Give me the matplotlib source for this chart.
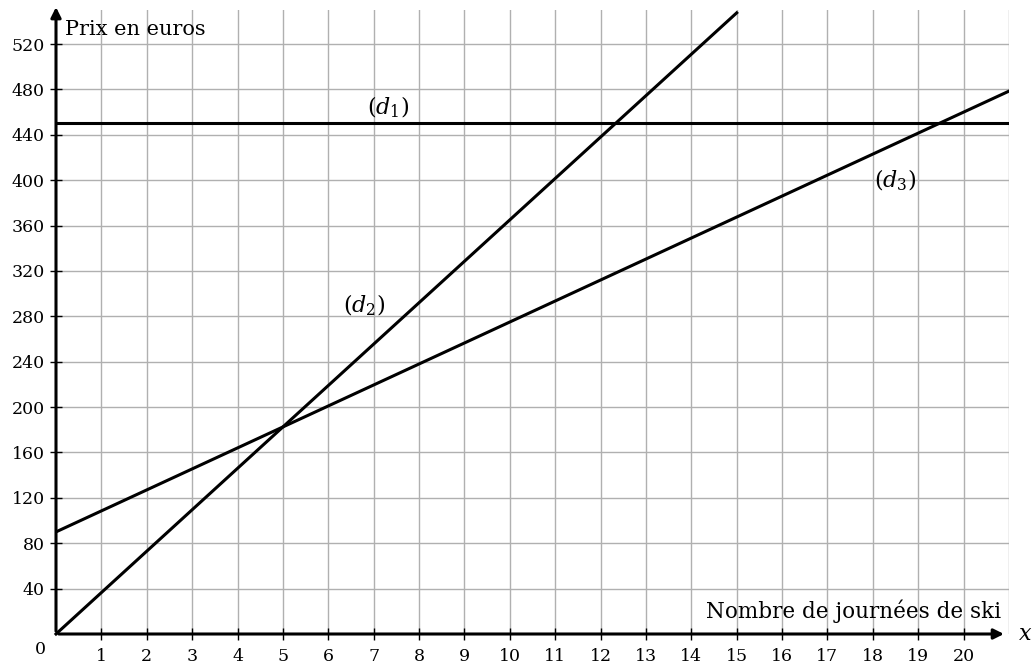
import numpy as np
import matplotlib.pyplot as plt

plt.rcParams['font.family'] = 'DejaVu Serif'
plt.rcParams['mathtext.fontset'] = 'dejavuserif'

# Data: three pricing formulas
x_ticks = list(range(1, 21))
y_ticks = list(range(40, 521, 40))
d1_price = 450          # flat price
d2_rate = 36.5          # price per day
d3_fixed = 90           # fixed part
d3_rate = 18.5          # price per day
d1_range = [0, 21]
d2_range = [0, 15]
d3_range = [0, 21]

fig = plt.figure(figsize=(10.32, 6.64), dpi=100)
ax = fig.add_axes([56 / 1032, 30 / 664, (1009 - 56) / 1032, 624 / 664])
ax.set_xlim(0, 21)
ax.set_ylim(0, 550)

# grid
for gx in range(1, 22):
    ax.axvline(gx, color='#b0b0b0', lw=1.0, zorder=1)
for gy in range(40, 550, 40):
    ax.axhline(gy, color='#b0b0b0', lw=1.0, zorder=1)

# lines
xs = np.array(d1_range)
ax.plot(xs, [d1_price, d1_price], color='black', lw=2.2, zorder=3)
xs = np.array(d2_range)
ax.plot(xs, d2_rate * xs, color='black', lw=2.2, zorder=3, clip_on=False)
xs = np.array(d3_range)
ax.plot(xs, d3_fixed + d3_rate * xs, color='black', lw=2.2, zorder=3)

ax.text(7.33, 464, r'$(d_1)$', ha='center', va='center', fontsize=16)
ax.text(6.8, 290, r'$(d_2)$', ha='center', va='center', fontsize=16)
ax.text(18.5, 400, r'$(d_3)$', ha='center', va='center', fontsize=16)

# axes with arrows
for s in ax.spines.values():
    s.set_visible(False)
ax.annotate('', xy=(20.95, 0), xytext=(0, 0),
            arrowprops=dict(arrowstyle='-|>', color='black', lw=2.2, mutation_scale=15),
            annotation_clip=False, zorder=4)
ax.annotate('', xy=(0, 555), xytext=(0, 0),
            arrowprops=dict(arrowstyle='-|>', color='black', lw=2.2, mutation_scale=15),
            annotation_clip=False, zorder=4)

ax.set_xticks(x_ticks)
ax.set_yticks(y_ticks)
ax.tick_params(direction='inout', length=8, width=1, labelsize=12.5, pad=6)
ax.tick_params(axis='y', pad=4)

ax.text(-0.35, -6, '0', ha='center', va='top', fontsize=12.5)
ax.text(0.2, 533, 'Prix en euros', ha='left', va='center', fontsize=15)
ax.text(20.82, 20, 'Nombre de journées de ski', ha='right', va='center', fontsize=15.5)
ax.text(21.2, 0, r'$x$', ha='left', va='center', fontsize=16)

fig.savefig('out.png', dpi=100)
